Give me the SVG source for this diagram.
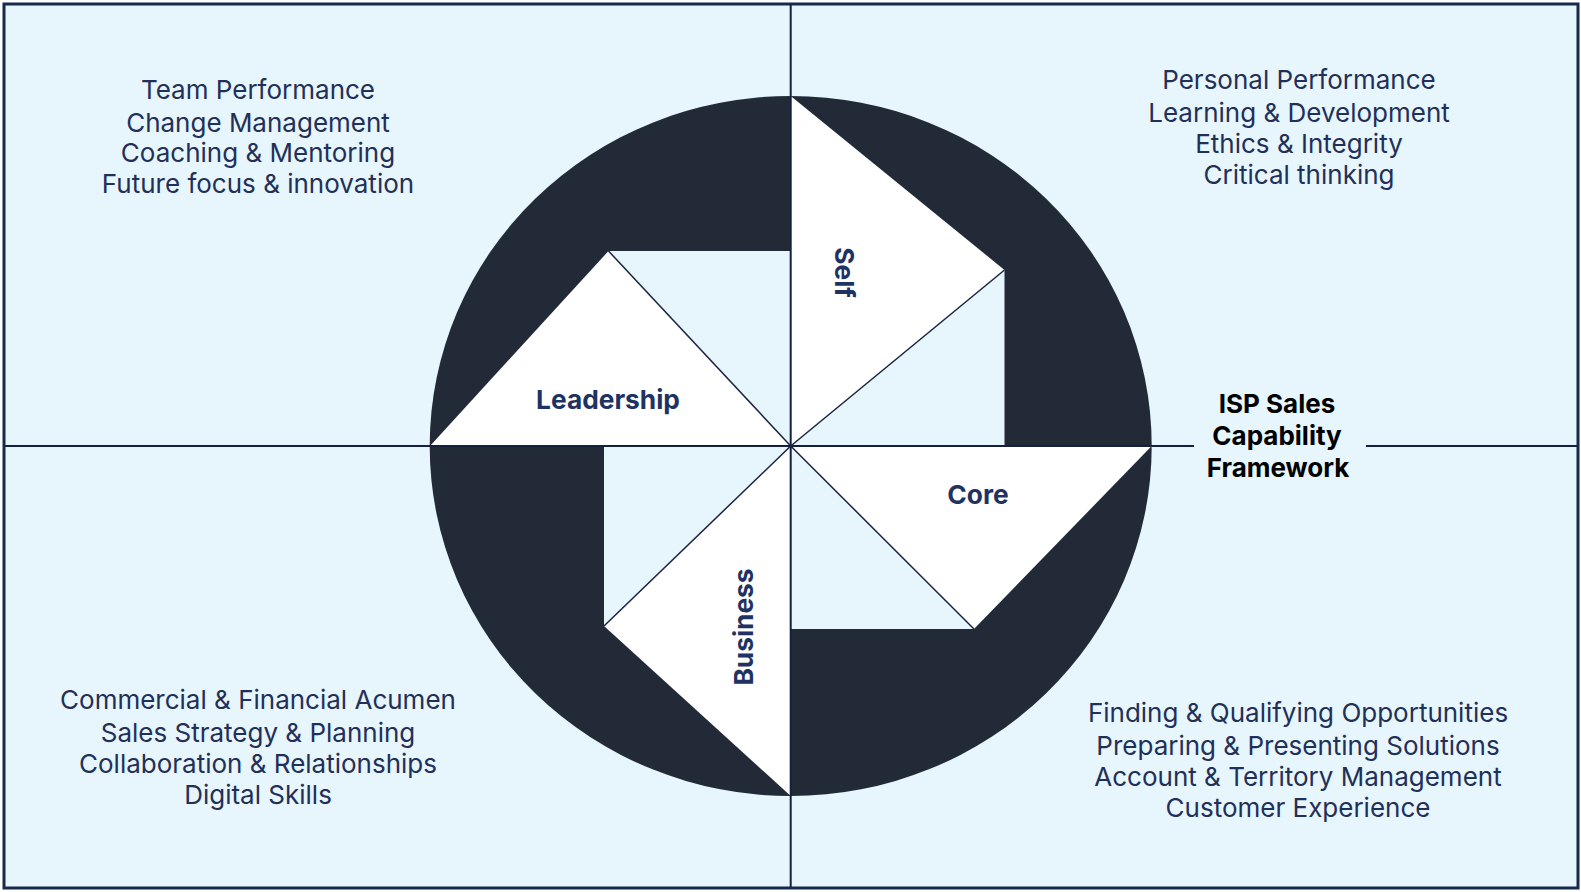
<svg xmlns="http://www.w3.org/2000/svg" width="1581" height="892" viewBox="0 0 1581 892">
<style>
.q{font-family:Inter,"Liberation Sans",sans-serif;font-size:26px;fill:#223058;text-anchor:middle}
.lb{font-family:Inter,"Liberation Sans",sans-serif;font-size:26.3px;font-weight:700;fill:#1f3363;text-anchor:middle}
.tt{font-family:Inter,"Liberation Sans",sans-serif;font-size:26px;font-weight:700;fill:#000;text-anchor:middle}
.ax{stroke:#14213d;stroke-width:2;fill:none}
.dg{stroke:#1a2540;stroke-width:1.5;fill:none}
.w{fill:#ffffff}
.l{fill:#e7f5fd}
</style>
<rect x="4" y="4" width="1574" height="884" fill="#e7f5fd" stroke="#172a4d" stroke-width="3"/>
<g id="connectors">
<line class="ax" x1="790.7" y1="5" x2="790.7" y2="887"/>
<line class="ax" x1="5" y1="446" x2="430" y2="446"/>
<line class="ax" x1="1151" y1="446" x2="1194" y2="446"/>
<line class="ax" x1="1366" y1="446" x2="1577" y2="446"/>
</g>
<g id="wheel">
<ellipse cx="790.7" cy="446" rx="361" ry="350" fill="#222a38"/>
<g id="self">
<polygon class="w" points="790.7,96 1004.5,270 790.7,446"/>
<polygon class="l" points="790.7,446 1004.5,270 1004.5,446"/>
<text class="lb" transform="translate(834.5,272.5) rotate(90)">Self</text>
</g>
<g id="core">
<polygon class="w" points="790.7,446 1151.7,446 974,629"/>
<polygon class="l" points="790.7,446 974,629 790.7,629"/>
<text class="lb" x="978" y="504">Core</text>
</g>
<g id="business">
<polygon class="w" points="790.7,446 790.7,796 604,626"/>
<polygon class="l" points="790.7,446 604,626 604,446"/>
<text class="lb" transform="translate(753,627) rotate(-90)">Business</text>
</g>
<g id="leadership">
<polygon class="w" points="790.7,446 430,446 608.5,251"/>
<polygon class="l" points="790.7,446 608.5,251 790.7,251"/>
<text class="lb" x="608" y="409">Leadership</text>
</g>
<g id="wheel-lines">
<line class="dg" x1="790.7" y1="446" x2="1004.5" y2="270"/>
<line class="dg" x1="790.7" y1="446" x2="974" y2="629"/>
<line class="dg" x1="790.7" y1="446" x2="604" y2="626"/>
<line class="dg" x1="790.7" y1="446" x2="608.5" y2="251"/>
<line class="ax" x1="790.7" y1="96" x2="790.7" y2="796"/>
<line class="ax" x1="430" y1="446" x2="1151.7" y2="446"/>
</g>
</g>
<g id="top-left">
<text class="q" x="258" y="99">Team Performance</text>
<text class="q" x="258" y="131.5">Change Management</text>
<text class="q" x="258" y="162">Coaching &amp; Mentoring</text>
<text class="q" x="258" y="193">Future focus &amp; innovation</text>
</g>
<g id="top-right">
<text class="q" x="1299" y="89">Personal Performance</text>
<text class="q" x="1299" y="121.5">Learning &amp; Development</text>
<text class="q" x="1299" y="152.5">Ethics &amp; Integrity</text>
<text class="q" x="1299" y="184">Critical thinking</text>
</g>
<g id="bottom-left">
<text class="q" x="258" y="708.5">Commercial &amp; Financial Acumen</text>
<text class="q" x="258" y="741.5">Sales Strategy &amp; Planning</text>
<text class="q" x="258" y="772.5">Collaboration &amp; Relationships</text>
<text class="q" x="258" y="804">Digital Skills</text>
</g>
<g id="bottom-right">
<text class="q" x="1298" y="722">Finding &amp; Qualifying Opportunities</text>
<text class="q" x="1298" y="754.5">Preparing &amp; Presenting Solutions</text>
<text class="q" x="1298" y="785.5">Account &amp; Territory Management</text>
<text class="q" x="1298" y="817">Customer Experience</text>
</g>
<g id="title">
<text class="tt" x="1277" y="413">ISP Sales</text>
<text class="tt" x="1277" y="445">Capability</text>
<text class="tt" x="1278" y="477">Framework</text>
</g>
</svg>
